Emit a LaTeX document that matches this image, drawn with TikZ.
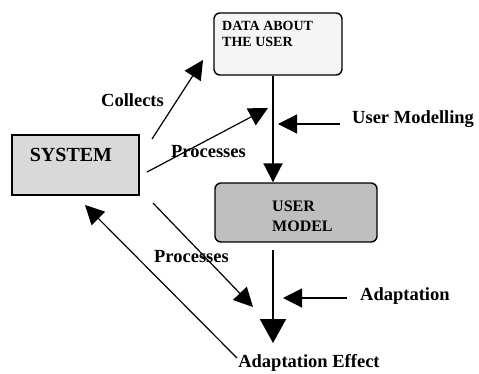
\documentclass[tikz,border=0pt]{standalone}
\usepackage{fontspec}
\setmainfont{Liberation Serif}
\usetikzlibrary{arrows.meta}

\tikzset{
  box/.style={draw,line width=1.4pt,inner sep=0pt},
  lbl/.style={font=\fontsize{18.5}{20}\selectfont\bfseries,inner sep=0pt},
  bigtip/.style={-{Triangle[length=19pt,width=19pt]}},
  hugetip/.style={-{Triangle[length=24pt,width=26pt]}},
  thinline/.style={line width=1.2pt},
  thickline/.style={line width=2pt},
}

\begin{document}
\begin{tikzpicture}[x=1pt,y=1pt]
\useasboundingbox (0,0) rectangle (479,373);

% boxes
\node[box,rounded corners=6pt,fill=gray!8,minimum width=128pt,minimum height=62pt] (data) at (278,329) {};
\node[anchor=north west,align=left,inner sep=0pt,font=\fontsize{14}{16}\selectfont\bfseries] (datatxt) at (222,352) {DATA ABOUT\\THE USER};

\node[box,fill=gray!30,minimum width=127pt,minimum height=60pt] (sys) at (75.5,208) {};
\node[inner sep=0pt,font=\fontsize{20}{22}\selectfont\bfseries] (systxt) at (71,218) {SYSTEM};

\node[box,rounded corners=6pt,fill=gray!50,minimum width=162pt,minimum height=59pt] (model) at (296,160.5) {};
\node[anchor=west,align=left,inner sep=0pt,font=\fontsize{16}{20}\selectfont\bfseries] (modeltxt) at (272,157) {USER\\MODEL};

% labels
\node[lbl,anchor=base] (collects) at (132.5,266) {Collects};
\node[lbl,anchor=base] (proc1) at (208.5,216) {Processes};
\node[lbl,anchor=base] (proc2) at (191.5,111) {Processes};
\node[lbl,anchor=base west] (usermod) at (352,250) {User Modelling};
\node[lbl,anchor=base west] (adapt) at (360,73) {Adaptation};
\node[lbl,anchor=base] (effect) at (309,6) {Adaptation Effect};

% end points
\coordinate (axis) at (273,0);
\coordinate (colA) at (152,234);
\coordinate (colB) at (203,313);
\coordinate (prAa) at (147,201);
\coordinate (prAb) at (268,265);
\coordinate (prBa) at (153,170);
\coordinate (prBb) at (253,66);
\coordinate (backA) at (237,15);
\coordinate (backB) at (85,168);
\coordinate (umA) at (340,249);
\coordinate (umB) at (278,249);
\coordinate (adA) at (347,75);
\coordinate (adB) at (283,75);
\coordinate (modOut) at (273,123);
\coordinate (effIn) at (273,30);

% arrows
\draw[thickline,bigtip] (data.south -| axis) -- (model.north -| axis);
\draw[thickline,hugetip] (modOut) -- (effIn);
\draw[thinline,bigtip] (colA) -- (colB);
\draw[thinline,bigtip] (prAa) -- (prAb);
\draw[thinline,bigtip] (prBa) -- (prBb);
\draw[thinline,bigtip] (backA) -- (backB);
\draw[thinline,bigtip] (umA) -- (umB);
\draw[thinline,bigtip] (adA) -- (adB);
\end{tikzpicture}
\end{document}
